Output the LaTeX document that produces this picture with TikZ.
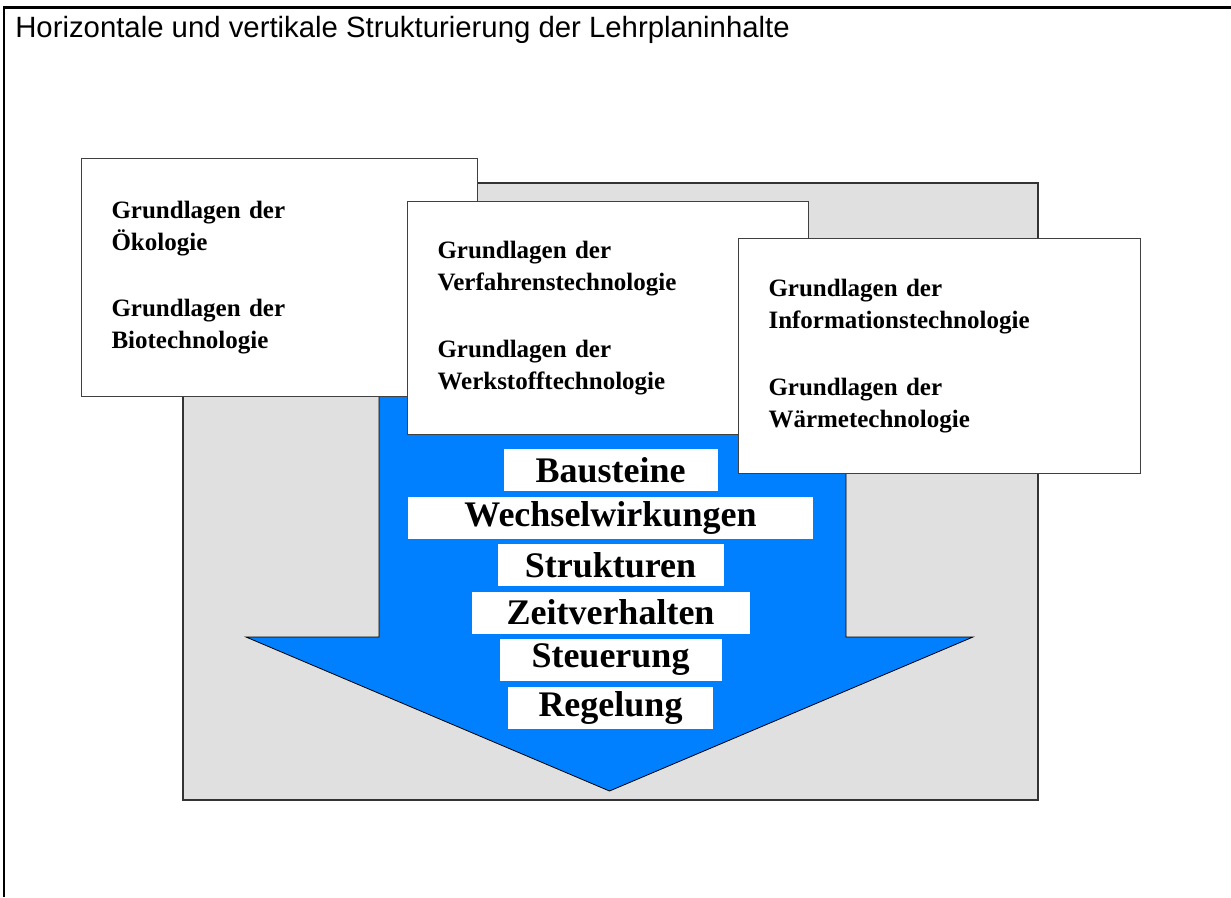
\documentclass[tikz,border=0pt]{standalone}
\usepackage{fontspec}
\setmainfont{Liberation Serif}
\newfontfamily\titlefam{Liberation Sans}
\usetikzlibrary{positioning}
\definecolor{panelgray}{HTML}{E0E0E0}
\definecolor{arrowblue}{HTML}{0080FF}
\tikzset{
  % riquadro di un gruppo di moduli
  modbox/.style={draw=black!75, fill=white, line width=0.8pt, anchor=north west,
    align=left, inner xsep=22.5pt, inner ysep=0pt,
    font=\bfseries\fontsize{18.75}{24}\selectfont},
  % etichetta bianca dentro la freccia
  steplbl/.style={fill=white, inner sep=0pt, minimum height=31.5pt,
    font=\bfseries\fontsize{27}{30}\selectfont},
  % pannello grigio e freccia
  panel/.style={draw=black!80, fill=panelgray, line width=0.9pt},
  bigarrow/.style={draw=black, fill=arrowblue, line width=0.6pt, line join=miter},
}

\begin{document}
\begin{tikzpicture}[x=0.75pt, y=-0.75pt]
  \useasboundingbox (0,0) rectangle (1231,897);
  % cornice e titolo
  \draw[line width=1.6pt] (4,897) -- (4,7.5) -- (1231,7.5);
  \node[anchor=base west, inner sep=0pt, font=\titlefam\fontsize{22}{26}\selectfont] (titel) at (15,37.5)
    {Horizontale und vertikale Strukturierung der Lehrplaninhalte};
  % pannello e freccia verso il basso
  \draw[panel] (183,183) rectangle (1038,800);
  \draw[bigarrow] (379,300) -- (379,637) -- (246,637) -- (609.5,791) -- (973,637) -- (846,637) -- (846,300) -- cycle;
  % i tre gruppi di moduli
  \node[modbox, minimum width=297pt, minimum height=178.5pt, text width=252pt] (oeko) at (81,158)
    {Grundlagen der\\Ökologie\\[26pt]Grundlagen der\\Biotechnologie};
  \node[modbox, minimum width=300.75pt, minimum height=174.75pt, text width=255.75pt] (verf) at (407,201)
    {Grundlagen der\\Verfahrenstechnologie\\[26pt]Grundlagen der\\Werkstofftechnologie};
  \node[modbox, minimum width=301.5pt, minimum height=176.25pt, text width=256.5pt] (info) at (738,238)
    {Grundlagen der\\Informationstechnologie\\[26pt]Grundlagen der\\Wärmetechnologie};
  % etichette lungo la freccia
  \foreach \i/\txt/\w in {0/Bausteine/160.5, 1/Wechselwirkungen/303.75, 2/Strukturen/169.5,
      3/Zeitverhalten/208.5, 4/Steuerung/166.5, 5/Regelung/153.75}
    \node[steplbl, minimum width=\w pt] (lbl\i) at (610.5,470+47.5*\i) {\txt};
\end{tikzpicture}
\end{document}
